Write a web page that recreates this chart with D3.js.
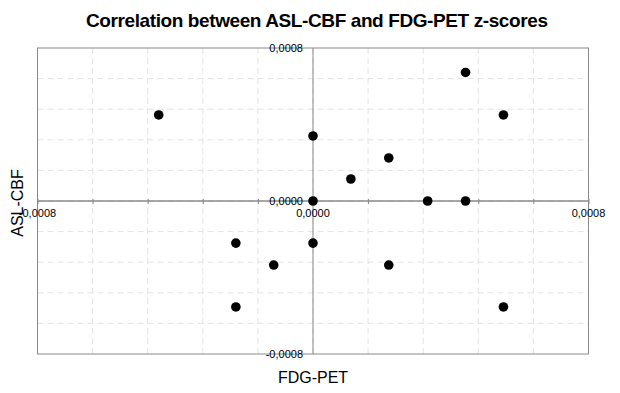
<!DOCTYPE html>
<html>
<head>
<meta charset="utf-8">
<script src="https://cdn.jsdelivr.net/npm/d3@7"></script>
<style>
  body { margin: 0; background: #fff; }
  text { font-family: "Liberation Sans", Arial, sans-serif; }
</style>
</head>
<body>
<svg id="drawing_region"></svg>
<script>
// z-scores
const fdgPet = [-0.000448, 0.000443, 0.000553, 0.0, 0.00022, 0.00011, 0.0, 0.000333, 0.000443,
                -0.000224, 0.0, -0.000114, 0.00022, -0.000224, 0.000553];
const aslCbf = [0.00045, 0.000672, 0.00045, 0.00034, 0.000225, 0.000115, 0.0, 0.0, 0.0,
                -0.00022, -0.00022, -0.000335, -0.000335, -0.000554, -0.000554];
const axisMin = -0.0008;
const axisMax = 0.0008;
const gridCount = 10;
const labelValues = [-0.0008, 0, 0.0008];
const titleText = "Correlation between ASL-CBF and FDG-PET z-scores";
const xLabel = "FDG-PET";
const yLabel = "ASL-CBF";

const config = {
    width: 620,
    height: 393,
    margin: {top: 48, right: 31.5, bottom: 39, left: 37.5}
};

const svg = d3.select('#drawing_region')
    .attr('width', config.width)
    .attr('height', config.height);

const inner_width = config.width - config.margin.left - config.margin.right;
const inner_height = config.height - config.margin.top - config.margin.bottom;

const chart = svg.append('g')
    .attr('transform', `translate(${config.margin.left}, ${config.margin.top})`);

const xscale = d3.scaleLinear().domain([axisMin, axisMax]).range([0, inner_width]);
const yscale = d3.scaleLinear().domain([axisMin, axisMax]).range([inner_height, 0]);

const locale = d3.formatLocale({decimal: ",", thousands: ".", grouping: [3], currency: ["", ""], minus: "-"});
const fmt = locale.format(".4f");

const gridValues = d3.range(gridCount + 1).map(i => axisMin + i * (axisMax - axisMin) / gridCount);

// dashed grid
chart.append('g').selectAll('line.vg')
    .data(gridValues.slice(1, -1))
    .join('line')
    .attr('x1', d => xscale(d)).attr('x2', d => xscale(d))
    .attr('y1', 0).attr('y2', inner_height)
    .attr('stroke', '#e4e4e4')
    .attr('stroke-dasharray', '6,4');

chart.append('g').selectAll('line.hg')
    .data(gridValues.slice(1, -1))
    .join('line')
    .attr('y1', d => yscale(d)).attr('y2', d => yscale(d))
    .attr('x1', 0).attr('x2', inner_width)
    .attr('stroke', '#e4e4e4')
    .attr('stroke-dasharray', '6,4');

// frame
chart.append('rect')
    .attr('x', 0).attr('y', 0)
    .attr('width', inner_width).attr('height', inner_height)
    .attr('fill', 'none')
    .attr('stroke', '#8a8a8a');

// zero axes
const xaxis = d3.axisBottom(xscale).tickValues(gridValues).tickSize(3).tickFormat('');
const xaxis_group = chart.append('g')
    .attr('transform', `translate(0, ${yscale(0)})`)
    .call(xaxis);
xaxis_group.append('g').call(d3.axisTop(xscale).tickValues(gridValues).tickSize(2).tickFormat(''));
xaxis_group.selectAll('path, line').attr('stroke', '#8a8a8a');
xaxis_group.selectAll('path').attr('d', `M0,0H${inner_width}`);

const yaxis = d3.axisLeft(yscale).tickValues(gridValues).tickSize(0).tickFormat('');
const yaxis_group = chart.append('g')
    .attr('transform', `translate(${xscale(0)}, 0)`)
    .call(yaxis);
yaxis_group.selectAll('path, line').attr('stroke', '#8a8a8a');
yaxis_group.selectAll('path').attr('d', `M0,0V${inner_height}`);

// tick labels
chart.append('g').selectAll('text')
    .data(labelValues)
    .join('text')
    .attr('x', d => xscale(d))
    .attr('y', yscale(0) + 16)
    .attr('text-anchor', 'middle')
    .attr('font-size', 11)
    .attr('fill', '#000')
    .text(d => fmt(d));

chart.append('g').selectAll('text')
    .data(labelValues)
    .join('text')
    .attr('x', xscale(0) - 10)
    .attr('y', d => yscale(d) + 4)
    .attr('text-anchor', 'end')
    .attr('font-size', 11)
    .attr('fill', '#000')
    .text(d => fmt(d));

// points
chart.append('g').selectAll('circle')
    .data(fdgPet.map((x, i) => ({x: x, y: aslCbf[i]})))
    .join('circle')
    .attr('cx', d => xscale(d.x))
    .attr('cy', d => yscale(d.y))
    .attr('r', 4.8)
    .attr('fill', '#000');

// titles
svg.append('text')
    .attr('x', 317)
    .attr('y', 27)
    .attr('text-anchor', 'middle')
    .attr('font-size', 19)
    .attr('font-weight', 'bold')
    .attr('textLength', 462)
    .attr('lengthAdjust', 'spacing')
    .text(titleText);

svg.append('text')
    .attr('x', config.margin.left + xscale(0))
    .attr('y', 383)
    .attr('text-anchor', 'middle')
    .attr('font-size', 16)
    .text(xLabel);

svg.append('text')
    .attr('transform', `translate(22.5, ${config.margin.top + yscale(0) + 2}) rotate(-90)`)
    .attr('text-anchor', 'middle')
    .attr('font-size', 16)
    .text(yLabel);
</script>
</body>
</html>
